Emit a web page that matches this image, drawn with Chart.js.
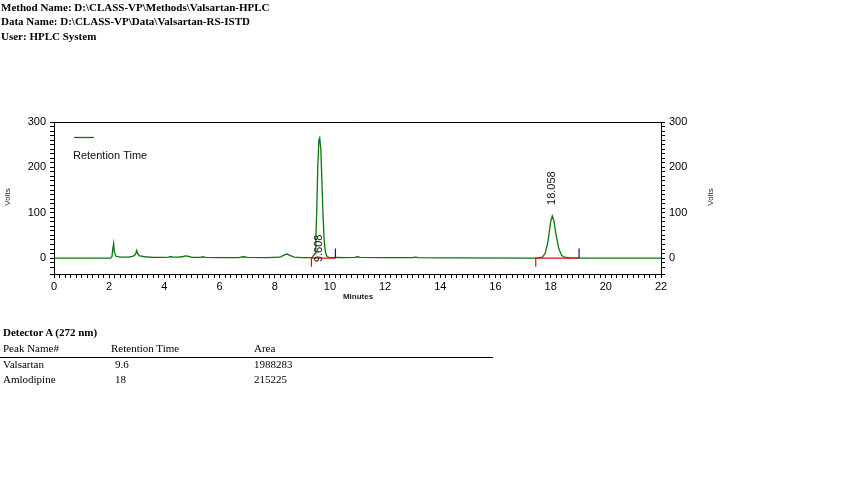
<!DOCTYPE html>
<html>
<head>
<meta charset="utf-8">
<script src="https://cdn.jsdelivr.net/npm/chart.js@4.4.1/dist/chart.umd.min.js"></script>
<style>
    body { margin: 0; background: #fff; }
    #wrap { position: relative; width: 850px; height: 490px; overflow: hidden; }
    #chart { position: absolute; left: 0; top: 0; }
    .hdr { position: absolute; left: 1px; font: bold 11px "Liberation Serif", serif; color: #000; white-space: nowrap; }
    .tbl { position: absolute; font: 11px "Liberation Serif", serif; color: #000; white-space: nowrap; }
    .rule { position: absolute; left: 0; top: 357px; width: 493px; height: 1px; background: #000; }
</style>
</head>
<body>
<div id="wrap">
    <canvas id="chart" width="850" height="490"></canvas>
    <div class="hdr" style="top:1px">Method Name: D:\CLASS-VP\Methods\Valsartan-HPLC</div>
    <div class="hdr" style="top:15px">Data Name: D:\CLASS-VP\Data\Valsartan-RS-ISTD</div>
    <div class="hdr" style="top:30px">User: HPLC System</div>

    <div class="tbl" style="left:3px;top:326px;font-weight:bold">Detector A (272 nm)</div>
    <div class="tbl" style="left:3px;top:342px">Peak Name#</div>
    <div class="tbl" style="left:111px;top:342px">Retention Time</div>
    <div class="tbl" style="left:254px;top:342px">Area</div>
    <div class="rule"></div>
    <div id="rows"></div>
</div>

<script>
// trace (minutes, volts)
const times = [
    0, 2.05, 2.1, 2.13, 2.16, 2.19, 2.25, 2.4, 2.7, 2.85, 2.95, 3.0, 3.03, 3.1, 3.3, 3.6,
    4.0, 4.15, 4.22, 4.3, 4.5, 4.65, 4.75, 4.85, 5.0, 5.3, 5.4, 5.5, 6.0, 6.7, 6.8, 6.9, 7.0,
    7.7, 8.2, 8.35, 8.45, 8.55, 8.7, 9.0, 9.35, 9.46, 9.49, 9.52, 9.56, 9.6, 9.63, 9.67, 9.71,
    9.75, 9.79, 9.84, 9.9, 10.0, 10.3, 10.5, 10.9, 11.0, 11.1, 12.0, 13.0, 13.1, 13.2, 14.0,
    17.5, 17.7, 17.8, 17.9, 18.0, 18.06, 18.12, 18.2, 18.3, 18.4, 18.5, 18.7, 19.0, 22.0
];
const volts = [
    0, 0, 3, 20, 32, 12, 4, 2, 2, 4, 8, 17, 10, 5, 3, 1.5,
    1.5, 2, 3.5, 2, 2, 3, 5, 4.5, 1.5, 1.5, 3, 1.5, 1, 1, 2.5, 3, 1.5,
    1, 2, 7, 9, 6, 2, 1, 1, 10, 40, 100, 200, 260, 265, 240, 170,
    95, 40, 12, 3, 1, 1.5, 1, 1.5, 3, 1.5, 1, 1, 2, 1, 0.5,
    0, 2, 10, 35, 80, 93, 82, 50, 20, 6, 2, 0.5, 0, 0
];

// integration events
const peakRT = [9.608, 18.058];
const peakApex = [265, 93];
const baseStart = [9.33, 17.46];
const baseEnd = [10.2, 19.03];
const startTickDepth = -19;
const endTickHeight = 21;

// results table
const peakNames = ['Valsartan', 'Amlodipine'];
const retTimes = ['9.6', '18'];
const areas = ['1988283', '215225'];

const TRACE = '#0b760b';

// table rows
const rows = document.getElementById('rows');
peakNames.forEach((name, i) => {
    const top = 358 + i * 15;
    rows.innerHTML +=
        `<div class="tbl" style="left:3px;top:${top}px">${name}</div>` +
        `<div class="tbl" style="left:115px;top:${top}px">${retTimes[i]}</div>` +
        `<div class="tbl" style="left:254px;top:${top}px">${areas[i]}</div>`;
});

const traceData = times.map((t, i) => ({ x: t, y: volts[i] }));

const redData = [];
const blueData = [];
baseStart.forEach((s, i) => {
    redData.push({ x: s, y: startTickDepth }, { x: s, y: 0 }, { x: baseEnd[i], y: 0 }, { x: baseEnd[i], y: null });
    blueData.push({ x: baseEnd[i], y: 0 }, { x: baseEnd[i], y: endTickHeight }, { x: baseEnd[i] + 0.001, y: null });
});

const isMultiple = (v, step) => Math.abs(v / step - Math.round(v / step)) < 1e-6;

const extras = {
    id: 'extras',
    afterDraw(chart) {
        const { ctx, chartArea: a, scales } = chart;
        const x = scales.x, y = scales.y;
        ctx.save();

        // top border
        ctx.strokeStyle = '#000';
        ctx.lineWidth = 1;
        ctx.beginPath();
        ctx.moveTo(a.left, a.top + 0.5);
        ctx.lineTo(a.right, a.top + 0.5);
        ctx.stroke();

        // legend
        ctx.strokeStyle = TRACE;
        ctx.lineWidth = 1.3;
        ctx.beginPath();
        ctx.moveTo(74, 137.5);
        ctx.lineTo(94, 137.5);
        ctx.stroke();
        ctx.fillStyle = '#111';
        ctx.font = '11px "Liberation Sans", Arial, sans-serif';
        ctx.textBaseline = 'middle';
        ctx.textAlign = 'left';
        ctx.fillText('Retention Time', 73, 156);

        // peak labels, rotated
        peakRT.forEach((rt, i) => {
            const px = x.getPixelForValue(rt);
            const label = rt.toFixed(3);
            const w = ctx.measureText(label).width;
            let start = y.getPixelForValue(peakApex[i]) - 11;
            if (start - w < a.top) start = y.getPixelForValue(0) + 4;
            ctx.save();
            ctx.translate(px, start);
            ctx.rotate(-Math.PI / 2);
            ctx.textAlign = 'left';
            ctx.textBaseline = 'middle';
            ctx.fillStyle = '#111';
            ctx.fillText(label, 0, 0);
            ctx.restore();
        });

        // axis titles
        ctx.font = '8px "Liberation Sans", Arial, sans-serif';
        ctx.fillStyle = '#222';
        ctx.textAlign = 'center';
        ctx.textBaseline = 'middle';
        [8, 711].forEach(tx => {
            ctx.save();
            ctx.translate(tx, 197);
            ctx.rotate(-Math.PI / 2);
            ctx.fillText('Volts', 0, 0);
            ctx.restore();
        });
        ctx.font = 'bold 8px "Liberation Sans", Arial, sans-serif';
        ctx.fillText('Minutes', 358, 297);

        ctx.restore();
    }
};

const tickFont = { family: '"Liberation Sans", Arial, sans-serif', size: 11 };

const yAxis = (pos, width) => ({
    type: 'linear',
    position: pos,
    min: -35,
    max: 300,
    border: { display: true, color: '#000', width: 1 },
    grid: { drawOnChartArea: false, drawTicks: true, tickLength: 4, tickColor: '#000' },
    ticks: {
        stepSize: 10,
        autoSkip: false,
        padding: 4,
        color: '#000',
        font: tickFont,
        callback: v => (v >= 0 && isMultiple(v, 100)) ? String(v) : ''
    },
    afterFit: s => { s.width = width; }
});

new Chart(document.getElementById('chart'), {
    type: 'line',
    data: {
        datasets: [
            { data: blueData, borderColor: '#1010a0', borderWidth: 1.2, pointRadius: 0, spanGaps: false, yAxisID: 'y' },
            { data: redData, borderColor: '#e01010', borderWidth: 1.2, pointRadius: 0, spanGaps: false, yAxisID: 'y' },
            { data: traceData, borderColor: TRACE, borderWidth: 1.3, pointRadius: 0, tension: 0, yAxisID: 'y' }
        ]
    },
    options: {
        responsive: false,
        animation: false,
        events: [],
        layout: { padding: { top: 122, left: 0, right: 0, bottom: 0 } },
        plugins: { legend: { display: false }, tooltip: { enabled: false } },
        scales: {
            x: {
                type: 'linear',
                min: 0,
                max: 22,
                border: { display: true, color: '#000', width: 1 },
                grid: { drawOnChartArea: false, drawTicks: true, tickLength: 4, tickColor: '#000' },
                ticks: {
                    stepSize: 0.2,
                    autoSkip: false,
                    maxRotation: 0,
                    padding: 2,
                    color: '#000',
                    font: tickFont,
                    callback: v => isMultiple(v, 2) ? String(Math.round(v)) : ''
                },
                afterFit: s => { s.height = 216; }
            },
            y: yAxis('left', 54),
            y2: yAxis('right', 189)
        }
    },
    plugins: [extras]
});
</script>
</body>
</html>
